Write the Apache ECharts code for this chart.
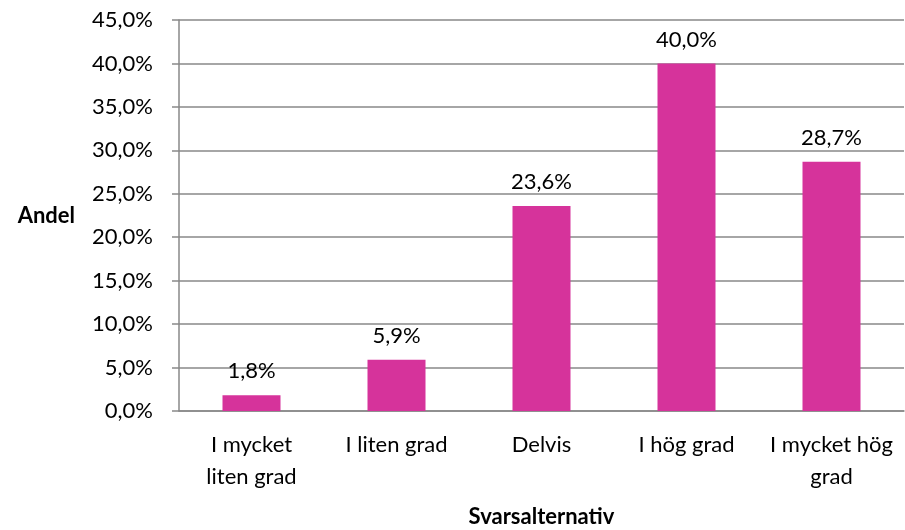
<!DOCTYPE html>
<html>
<head>
<meta charset="utf-8">
<script src="https://cdn.jsdelivr.net/npm/echarts@6/dist/echarts.min.js"></script>
<style>
  html, body { margin: 0; padding: 0; background: #fff; }
  #chart { width: 905px; height: 530px; }
</style>
</head>
<body>
<div id="chart"></div>
<script>
const categories = ['I mycket\nliten grad', 'I liten grad', 'Delvis', 'I hög grad', 'I mycket hög\ngrad'];
const shares = [1.8, 5.9, 23.6, 40.0, 28.7];
const yTicks = { min: 0, max: 45, interval: 5 };

const font = 'Lato, "Open Sans", sans-serif';
const gridColor = '#898989';
const pct = (v) => v.toFixed(1).replace('.', ',') + '%';

const chart = echarts.init(document.getElementById('chart'));
chart.setOption({
  animation: false,
  grid: { left: 179, right: 1, top: 20, bottom: 119, outerBoundsMode: 'none' },
  xAxis: {
    type: 'category',
    data: categories,
    name: 'Svarsalternativ',
    nameLocation: 'middle',
    nameGap: 95,
    nameTextStyle: { fontFamily: font, fontWeight: 'bold', fontSize: 22, color: '#000' },
    axisLine: { lineStyle: { color: gridColor, width: 1.5 } },
    axisTick: { length: 7, lineStyle: { color: gridColor, width: 1.5 } },
    axisLabel: { interval: 0, hideOverlap: false, fontFamily: font, fontSize: 22, color: '#000', margin: 18, lineHeight: 32 },
  },
  yAxis: {
    type: 'value',
    min: yTicks.min,
    max: yTicks.max,
    interval: yTicks.interval,
    name: 'Andel',
    nameLocation: 'middle',
    nameRotate: 0,
    nameGap: 104,
    nameTextStyle: { fontFamily: font, fontWeight: 'bold', fontSize: 22, color: '#000' },
    axisLine: { show: true, lineStyle: { color: gridColor, width: 1.5 } },
    axisTick: { show: true, length: 7, lineStyle: { color: gridColor, width: 1.5 } },
    splitLine: { lineStyle: { color: gridColor, width: 1.5 } },
    axisLabel: { fontFamily: font, fontSize: 22, color: '#000', margin: 26, formatter: pct },
  },
  series: [
    {
      type: 'bar',
      data: shares,
      barWidth: 58,
      itemStyle: { color: '#d6339b' },
      label: {
        show: true,
        position: 'top',
        distance: 13,
        fontFamily: font,
        fontSize: 22,
        color: '#000',
        formatter: (p) => pct(p.value),
      },
    },
  ],
});
</script>
</body>
</html>
